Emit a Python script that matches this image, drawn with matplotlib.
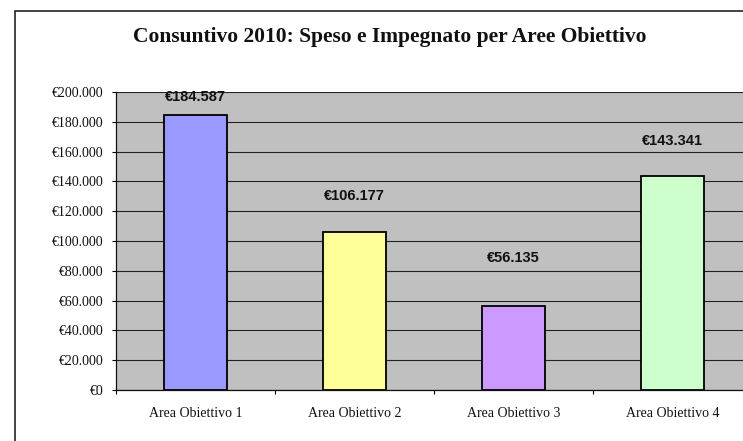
import matplotlib
matplotlib.use('Agg')
import matplotlib.pyplot as plt
from matplotlib.patches import Rectangle
from matplotlib.ticker import FixedLocator, FuncFormatter

# chart data
categories = ['Area Obiettivo 1', 'Area Obiettivo 2', 'Area Obiettivo 3', 'Area Obiettivo 4']
values = [184587, 106177, 56135, 143341]
bar_colors = ['#9999FF', '#FFFF99', '#CC99FF', '#CCFFCC']
label_offsets = [18, 36, 48, 35]  # pixels above bar top, as placed in the original
title = 'Consuntivo 2010: Speso e Impegnato per Aree Obiettivo'


def euro(v, pos=None):
    return '€' + '{:,}'.format(int(v)).replace(',', '.')


W, H = 743, 441
fig = plt.figure(figsize=(W / 100, H / 100), dpi=100)
fig.patch.set_facecolor('white')

# outer chart frame (runs off the right and bottom edges)
fig.patches.append(Rectangle((15 / W, -0.2), 1.5, 1 - 11 / H + 0.2, transform=fig.transFigure,
                             fill=False, edgecolor='#222222', linewidth=1.2, clip_on=False))

ax = fig.add_axes([116 / W, 51 / H, 636 / W, 298 / H])
ax.set_facecolor('#C0C0C0')

x = list(range(len(categories)))
ax.bar(x, values, width=0.4, color=bar_colors, edgecolor='black', linewidth=1.3, zorder=3)

for i, v in enumerate(values):
    ax.annotate(euro(v), (x[i], v), xytext=(0, label_offsets[i]), textcoords='offset pixels',
                ha='center', va='center', fontsize=10.5, fontweight='bold',
                family='Liberation Sans', color='#111111', zorder=4)

ax.set_xlim(-0.5, 3.5)
ax.set_ylim(0, 200000)
ax.yaxis.set_major_locator(FixedLocator(range(0, 200001, 20000)))
ax.yaxis.set_major_formatter(FuncFormatter(euro))
ax.grid(axis='y', color='#222222', linewidth=0.8, zorder=1)
ax.set_axisbelow(True)

ax.set_xticks(x)
ax.set_xticklabels(categories)
ax.set_xticks([-0.5, 0.5, 1.5, 2.5, 3.5], minor=True)
ax.tick_params(axis='x', which='major', length=0, pad=12)
ax.tick_params(axis='x', which='minor', length=3, width=0.8, direction='out')
ax.tick_params(axis='y', length=3, width=0.8, direction='out', pad=6)
for lab in ax.get_xticklabels() + ax.get_yticklabels():
    lab.set_family('Liberation Serif')
    lab.set_fontsize(10)
    lab.set_color('#111111')

for s in ['top', 'right']:
    ax.spines[s].set_visible(False)
for s in ['left', 'bottom']:
    ax.spines[s].set_color('#111111')
    ax.spines[s].set_linewidth(0.9)

fig.text(390 / W, 1 - 37 / H, title, ha='center', va='center', fontsize=15.5,
         fontweight='bold', family='Liberation Serif', color='#111111')

fig.savefig('out.png', dpi=100)
